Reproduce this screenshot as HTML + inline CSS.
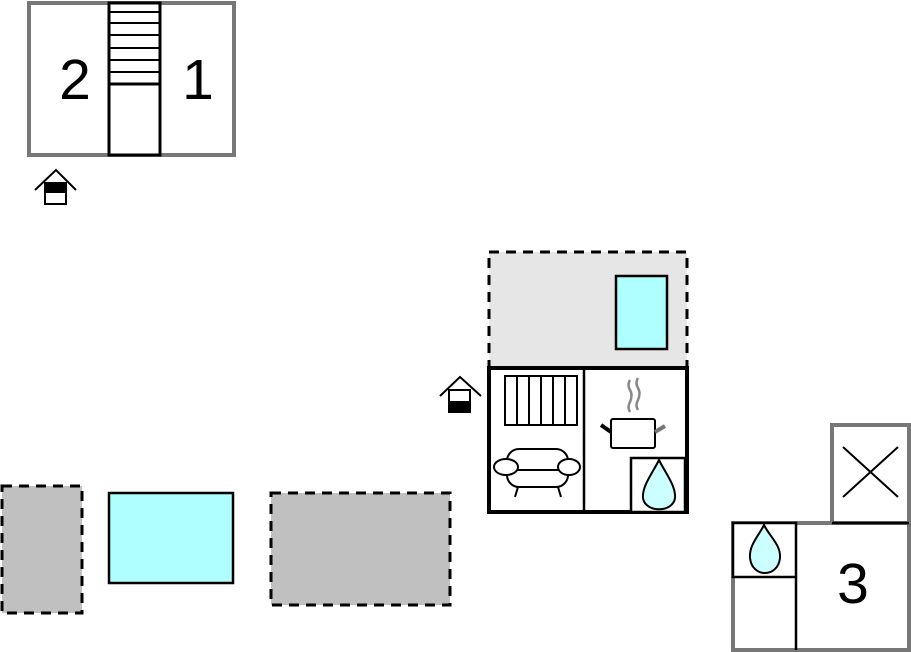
<!DOCTYPE html>
<html><head><meta charset="utf-8"><style>
html,body{margin:0;padding:0;background:#fff;width:911px;height:652px;overflow:hidden}
text{font-family:"Liberation Sans",sans-serif}
</style></head><body>
<svg width="911" height="652" viewBox="0 0 911 652" xmlns="http://www.w3.org/2000/svg">
<rect x="29" y="3" width="205" height="152" fill="#fff" stroke="#777" stroke-width="4"/>
<rect x="109" y="3" width="51" height="152" fill="#fff" stroke="#000" stroke-width="3"/>
<g stroke="#000" stroke-width="2">
<line x1="109" y1="12" x2="160" y2="12"/><line x1="109" y1="23" x2="160" y2="23"/>
<line x1="109" y1="35" x2="160" y2="35"/><line x1="109" y1="48" x2="160" y2="48"/>
<line x1="109" y1="60" x2="160" y2="60"/><line x1="109" y1="72" x2="160" y2="72"/>
<line x1="109" y1="84" x2="160" y2="84" stroke-width="3"/>
</g>
<text x="75" y="99" font-size="57" text-anchor="middle">2</text>
<text x="198" y="99" font-size="57" text-anchor="middle">1</text>
<polyline points="35,190 56,170 76,190" fill="none" stroke="#000" stroke-width="2"/>
<rect x="45" y="183" width="21" height="21" fill="#fff" stroke="#000" stroke-width="2"/>
<rect x="45" y="183" width="21" height="10" fill="#000"/>
<rect x="489" y="252" width="198" height="116" fill="#e6e6e6" stroke="#000" stroke-width="3" stroke-dasharray="10,7"/>
<rect x="616" y="276" width="51" height="73" fill="#b0ffff" stroke="#000" stroke-width="2.5"/>
<rect x="489" y="368" width="198" height="144" fill="#fff" stroke="#000" stroke-width="4"/>
<line x1="584" y1="368" x2="584" y2="512" stroke="#000" stroke-width="2.5"/>
<rect x="631" y="458" width="54" height="54" fill="#fff" stroke="#000" stroke-width="2.5"/>
<rect x="505" y="376" width="72" height="49" fill="#fff" stroke="#000" stroke-width="2"/>
<g stroke="#000" stroke-width="2">
<line x1="517" y1="376" x2="517" y2="425"/><line x1="529" y1="376" x2="529" y2="425"/>
<line x1="541" y1="376" x2="541" y2="425"/><line x1="553" y1="376" x2="553" y2="425"/>
<line x1="565" y1="376" x2="565" y2="425"/>
</g>
<g fill="#fff" stroke="#000" stroke-width="2">
<rect x="507" y="449" width="61" height="38" rx="12"/>
<line x1="513" y1="470" x2="562" y2="470"/>
<line x1="518" y1="487" x2="515" y2="497"/><line x1="558" y1="487" x2="561" y2="497"/>
<ellipse cx="506" cy="467" rx="12" ry="8"/>
<ellipse cx="569" cy="467" rx="11" ry="8"/>
</g>
<g fill="none" stroke="#888" stroke-width="2.5">
<path d="M630,380 q-3,5 0,10 q3,5 0,12 q-3,5 0,10"/>
<path d="M638,378 q-3,5 0,10 q3,5 0,12 q-3,5 0,10"/>
</g>
<rect x="611" y="419" width="44" height="29" rx="2" fill="#fff" stroke="#000" stroke-width="2"/>
<line x1="601" y1="425" x2="611" y2="432" stroke="#000" stroke-width="4"/>
<line x1="655" y1="432" x2="665" y2="426" stroke="#777" stroke-width="4"/>
<path d="M659,460 C652,474 642,486 643,498 C645,513 673,513 675,498 C676,486 666,474 659,460 Z" fill="#ccffff" stroke="#000" stroke-width="2"/>
<polyline points="440,396 460,377 481,396" fill="none" stroke="#000" stroke-width="2"/>
<rect x="449" y="390" width="21" height="22" fill="#fff" stroke="#000" stroke-width="2"/>
<rect x="449" y="401" width="21" height="11" fill="#000"/>
<rect x="2" y="486" width="80" height="127" fill="#c0c0c0" stroke="#000" stroke-width="3" stroke-dasharray="10,7"/>
<rect x="109" y="493" width="124" height="90" fill="#b0ffff" stroke="#000" stroke-width="2.5"/>
<rect x="271" y="493" width="179" height="112" fill="#c0c0c0" stroke="#000" stroke-width="3" stroke-dasharray="10,7"/>
<rect x="832" y="425" width="77" height="99" fill="#fff" stroke="#777" stroke-width="4"/>
<line x1="843" y1="447" x2="898" y2="497" stroke="#000" stroke-width="2"/>
<line x1="898" y1="447" x2="843" y2="497" stroke="#000" stroke-width="2"/>
<rect x="733" y="523" width="176" height="127" fill="#fff" stroke="#777" stroke-width="4"/>
<line x1="832" y1="523" x2="909" y2="523" stroke="#000" stroke-width="2.5"/>
<rect x="733" y="523" width="63" height="54" fill="#fff" stroke="#000" stroke-width="2.5"/>
<line x1="796" y1="577" x2="796" y2="650" stroke="#000" stroke-width="2.5"/>
<path d="M764,525 C758,537 749,545 750,558 C752,578 778,578 780,558 C781,545 770,537 764,525 Z" fill="#ccffff" stroke="#000" stroke-width="2"/>
<text x="853" y="603" font-size="57" text-anchor="middle">3</text>
</svg>
</body></html>
